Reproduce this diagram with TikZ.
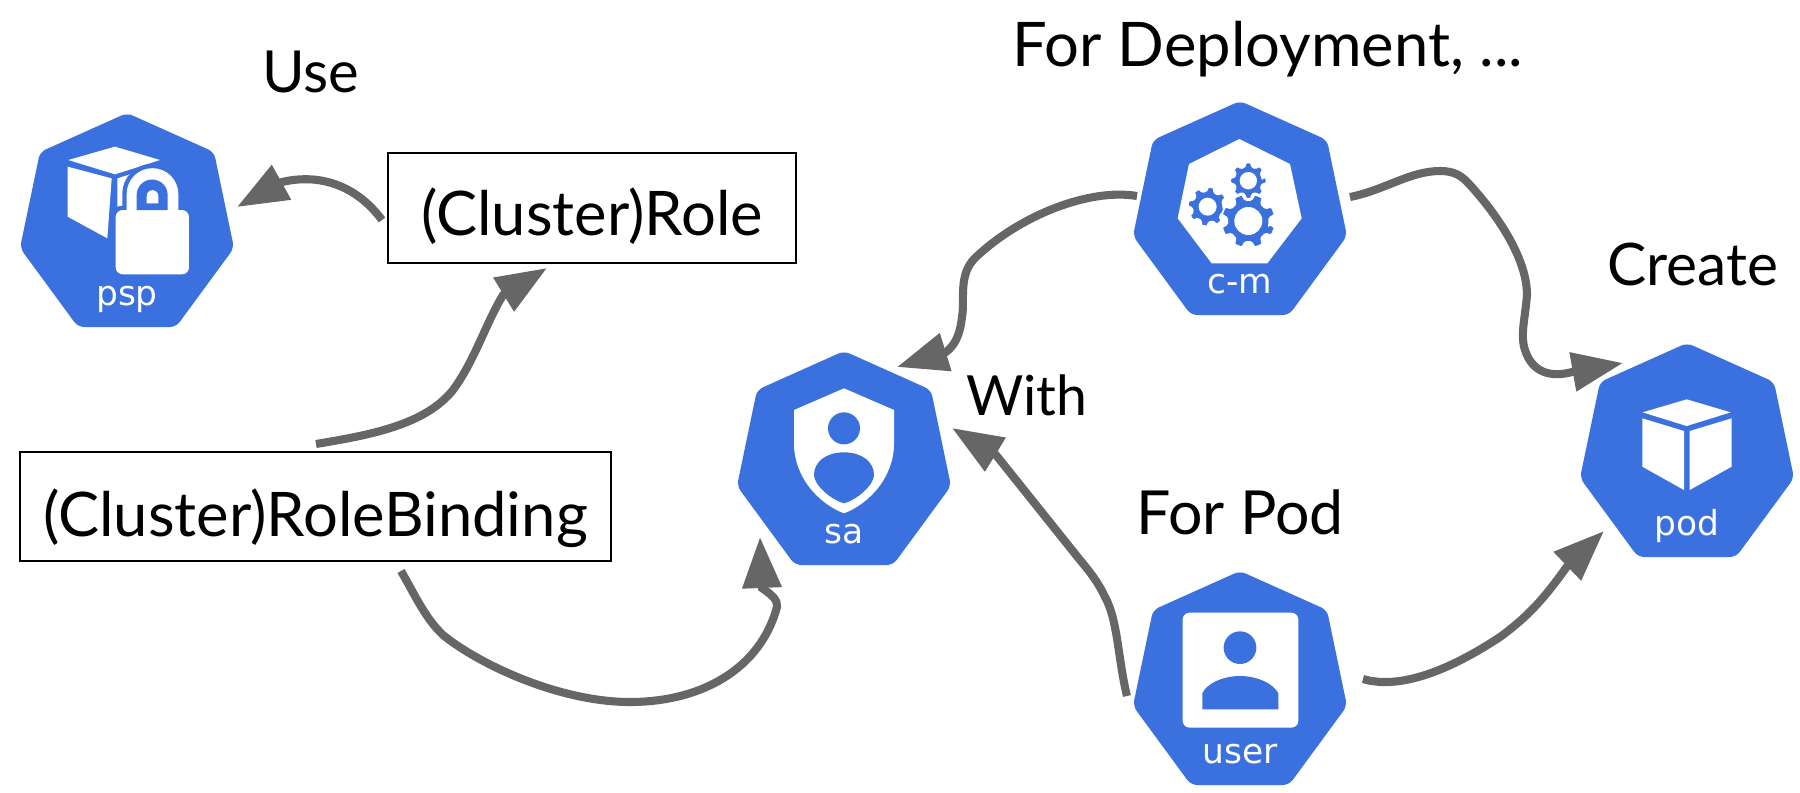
\documentclass[tikz,border=0pt]{standalone}
\usepackage{fontspec}
\setmainfont{Lato}
\newfontfamily\iconfont{DejaVu Sans}
\usetikzlibrary{arrows.meta}
\definecolor{kblue}{HTML}{3B71DF}
\definecolor{kgray}{HTML}{666666}
\tikzset{
  kubelabel/.style={anchor=base,inner sep=0pt,text=white,font=\iconfont\fontsize{19.6pt}{21pt}\selectfont},
  caption/.style={anchor=base,inner sep=0pt,text=black,font=\fontsize{#1}{36pt}\selectfont},
  caption/.default=34pt,
  rolebox/.style={draw=black,line width=1.2pt,fill=white,inner sep=0pt,align=center,text=black,text depth=6pt,font=\fontsize{35pt}{38pt}\selectfont},
  conn/.style={draw=kgray,line width=4.6pt,-{Triangle[length=29pt,width=21.5pt,inset=0pt]},fill=none},
  zoomed/.style={scale=0.33333},
  cubeface/.style={fill=white,draw=none}
}
\newcommand{\kubehept}[4]{%
  \begin{scope}[shift={(#2,#3)}]
    \fill[kblue,rounded corners=3.5pt] (0,-2) -- (87,37) -- (107,133) -- (49,212) -- (-49,212) -- (-107,133) -- (-87,37) -- cycle;
    \node[kubelabel] (#1) at (0,190) {#4};
  \end{scope}}
\newcommand{\kgear}[6]{%
  \begin{scope}[shift={(#1,#2)}]
    \path[fill=kblue,draw=white,line width=1pt,rounded corners=0.7pt]
      (#6-22.5+14:#4)
      \foreach \i in {0,...,7}{
        -- ({#6+\i*45-14}:#4) -- ({#6+\i*45-9}:#3) -- ({#6+\i*45+9}:#3) -- ({#6+\i*45+14}:#4)
      } -- cycle;
    \fill[white] (0,0) circle (#5);
  \end{scope}}
\begin{document}
\begin{tikzpicture}[x=0.02cm,y=-0.02cm]
\useasboundingbox (0,0) rectangle (1800,792);
\fill[white] (0,0) rectangle (1800,792);

% heptagons
\kubehept{psp}{127}{115}{psp}
\kubehept{cm}{1240}{103}{c-m}
\kubehept{sa}{844}{353}{sa}
\kubehept{user}{1240}{573}{user}
\kubehept{pod}{1687}{345}{pod}

% psp icon
\begin{scope}[shift={(0,90)},zoomed]
  \fill[cubeface] (205,210) -- (345,170) -- (480,210) -- (345,253) -- cycle;
  \fill[cubeface] (203,230) -- (335,265) -- (322,445) -- (203,380) -- cycle;
  \fill[cubeface] (352,265) -- (480,225) -- (480,400) -- (352,470) -- cycle;
  \draw[kblue,line width=5pt,fill=kblue] (380,360) -- (380,312) arc (180:360:77.5) -- (535,360) -- cycle;
  \draw[kblue,line width=5pt,fill=kblue,rounded corners=4pt] (347,360) rectangle (567,553);
  \fill[white] (380,370) -- (380,312) arc (180:360:77.5) -- (535,370) -- cycle;
  \fill[white,rounded corners=4pt] (347,360) rectangle (567,553);
  \fill[kblue] (410,360) -- (410,315) arc (180:360:46.5) -- (503,360) -- cycle;
  \fill[white] (440,340) -- (440,318) arc (180:360:17.5) -- (475,340) -- cycle;
\end{scope}

% c-m icon
\begin{scope}[shift={(1110,90)},zoomed]
  \fill[white] (388,147) -- (540,222) -- (575,385) -- (472,520) -- (305,520) -- (203,385) -- (237,222) -- cycle;
  \kgear{415}{272}{55}{43}{26}{0}
  \kgear{293}{350}{60}{47}{27}{10}
  \kgear{415}{393}{82}{64}{42}{22.5}
\end{scope}

% sa icon
\begin{scope}[shift={(720,340)},zoomed]
  \fill[white] (372,145) -- (522,210) -- (522,310) .. controls (522,410) and (450,490) .. (372,520)
     .. controls (294,490) and (222,410) .. (222,310) -- (222,210) -- cycle;
  \fill[kblue] (372,265) circle (48);
  \fill[kblue] (372,337) .. controls (425,337) and (462,365) .. (462,405) .. controls (462,435) and (410,480) .. (372,490)
     .. controls (334,480) and (282,435) .. (282,405) .. controls (282,365) and (319,337) .. (372,337) -- cycle;
\end{scope}

% user icon
\begin{scope}[shift={(1110,560)},zoomed]
  \fill[white,rounded corners=4pt] (218,158) rectangle (565,503);
  \fill[kblue] (390,263) circle (49);
  \fill[kblue] (277,448) -- (277,400) .. controls (290,370) and (340,348) .. (390,348) .. controls (440,348) and (490,370) .. (505,400) -- (505,448) -- cycle;
\end{scope}

% pod icon
\begin{scope}[shift={(1560,330)},zoomed]
  \fill[cubeface] (248,247) -- (380,208) -- (512,247) -- (380,288) -- cycle;
  \fill[cubeface] (247,265) -- (372,303) -- (372,480) -- (247,410) -- cycle;
  \fill[cubeface] (389,303) -- (515,265) -- (515,410) -- (389,480) -- cycle;
\end{scope}

% boxes
\node[rolebox,text height=36.8pt,minimum width=232pt,minimum height=62.5pt] (role) at (592,208) {(Cluster)Role};
\node[rolebox,text height=39.6pt,minimum width=336pt,minimum height=62pt] (binding) at (315.5,506.5) {(Cluster)RoleBinding};

% captions
\node[caption=33pt] (use) at (311,92) {Use};
\node[caption=35pt] (deploy) at (1268,66) {For Deployment, ...};
\node[caption=33.4pt] (create) at (1693,285) {Create};
\node[caption=31.5pt] (with) at (1027,415) {With};
\node[caption=34.6pt] (forpod) at (1240,534) {For Pod};

% connector ends
\coordinate (roleout) at (382,220);
\coordinate (pspin) at (237,207);
\coordinate (bindup) at (316,444);
\coordinate (rolein) at (547,268);
\coordinate (binddown) at (401,571);
\coordinate (sain) at (760,537);
\coordinate (cmleft) at (1137,196);
\coordinate (saintop) at (897,367);
\coordinate (cmright) at (1350,197);
\coordinate (podintop) at (1623,363);
\coordinate (userleft) at (1127,696);
\coordinate (sainright) at (952,428);
\coordinate (userright) at (1363,679);
\coordinate (podinlow) at (1604,531);

% connectors
\draw[conn] (roleout) .. controls (360,190) and (325,172) .. (282,182) -- (pspin);
\draw[conn] (bindup) .. controls (370,435) and (425,425) .. (453,390) .. controls (475,360) and (485,325) .. (503,295) -- (rolein);
\draw[conn] (binddown) .. controls (415,595) and (425,618) .. (443,635) .. controls (480,665) and (560,702) .. (630,702) .. controls (700,702) and (760,670) .. (777,607) .. controls (778,600) and (772,595) .. (762,588) -- (sain);
\draw[conn] (cmleft) .. controls (1090,188) and (1020,215) .. (975,258) .. controls (958,275) and (965,300) .. (962,317) .. controls (960,335) and (955,345) .. (946,352) -- (saintop);
\draw[conn] (cmright) .. controls (1385,190) and (1410,171) .. (1440,171) .. controls (1455,171) and (1462,176) .. (1470,185) .. controls (1500,218) and (1527,260) .. (1527,295) .. controls (1525,320) and (1520,335) .. (1525,350) .. controls (1532,372) and (1550,378) .. (1572,372) -- (podintop);
\draw[conn] (userleft) .. controls (1118,660) and (1118,620) .. (1105,597) .. controls (1098,582) and (1090,572) .. (1080,560) -- (996,455) -- (sainright);
\draw[conn] (userright) .. controls (1400,690) and (1450,670) .. (1500,637) .. controls (1530,615) and (1545,597) .. (1567,566.5) -- (podinlow);
\end{tikzpicture}
\end{document}
